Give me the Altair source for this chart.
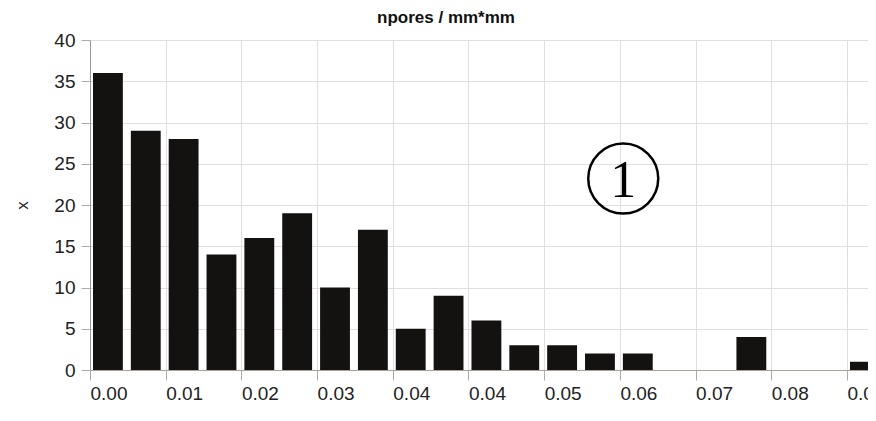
import altair as alt
import pandas as pd

# histogram bins (start / end) and counts
bin_start = [0.0, 0.0045, 0.009, 0.0135, 0.018, 0.0225, 0.027, 0.0315, 0.036, 0.0405,
             0.045, 0.0495, 0.054, 0.0585, 0.063, 0.0675, 0.072, 0.0765, 0.081, 0.0855, 0.09]
bin_end = [0.0045, 0.009, 0.0135, 0.018, 0.0225, 0.027, 0.0315, 0.036, 0.0405, 0.045,
           0.0495, 0.054, 0.0585, 0.063, 0.0675, 0.072, 0.0765, 0.081, 0.0855, 0.09, 0.0945]
counts = [36, 29, 28, 14, 16, 19, 10, 17, 5, 9, 6, 3, 3, 2, 2, 0, 0, 4, 0, 0, 1]

x_ticks = [0.0, 0.009, 0.018, 0.027, 0.036, 0.045, 0.054, 0.063, 0.072, 0.081, 0.09]
y_ticks = [0, 5, 10, 15, 20, 25, 30, 35, 40]

# annotation "①"
note_x = [0.0634]
note_y = [23.2]
note_text = ["1"]

bars = pd.DataFrame({"start": bin_start, "end": bin_end, "count": counts})
bars = bars[bars["count"] > 0]
note = pd.DataFrame({"x": note_x, "y": note_y, "t": note_text})

xs = alt.Scale(domain=[0, 0.0925], nice=False, zero=False)
ys = alt.Scale(domain=[0, 40], nice=False)

x_axis = alt.Axis(values=x_ticks, format=".2f", title=None, labelFontSize=19,
                  labelColor="#222", labelPadding=4, labelAlign="left", tickSize=10,
                  tickColor="#b0aaaa", domainColor="#a8a09c", gridColor="#e2dde0",
                  labelFlush=False, labelOverlap=False, labelBound=False)
y_axis = alt.Axis(values=y_ticks, title="x", titleFontSize=17, titleFontWeight="normal",
                  titleColor="#222", titlePadding=22, labelFontSize=19, labelColor="#222",
                  labelPadding=6, tickSize=9, tickColor="#b0aaaa", domainColor="#999",
                  gridColor="#e2dde0")

bar_layer = alt.Chart(bars).mark_bar(
    color="#141210", xOffset=3, x2Offset=-5, clip=True
).encode(
    x=alt.X("start:Q", scale=xs, axis=x_axis),
    x2="end:Q",
    y=alt.Y("count:Q", scale=ys, axis=y_axis),
    y2=alt.datum(0),
)

circle = alt.Chart(note).mark_point(
    shape="circle", filled=False, size=4900, strokeWidth=2.5, color="#000", opacity=1
).encode(x=alt.X("x:Q", scale=xs), y=alt.Y("y:Q", scale=ys))

digit = alt.Chart(note).mark_text(
    font="Liberation Serif", fontSize=52, color="#000", baseline="middle", align="center", dy=2
).encode(x=alt.X("x:Q", scale=xs), y=alt.Y("y:Q", scale=ys), text="t:N")

chart = alt.layer(bar_layer, circle, digit).properties(
    width=778,
    height=330,
    title=alt.TitleParams("npores / mm*mm", fontSize=17, fontWeight="bold",
                          font="Liberation Sans", color="#111", anchor="middle", dx=-33,
                          offset=4),
    autosize=alt.AutoSizeParams(type="none"),
    padding={"left": 82, "top": 32, "right": 0, "bottom": 34},
).configure_view(stroke=None).configure_axis(labelFont="Liberation Sans", titleFont="Liberation Sans")

chart.save("out.html", embed_options={"renderer": "svg", "actions": False})
